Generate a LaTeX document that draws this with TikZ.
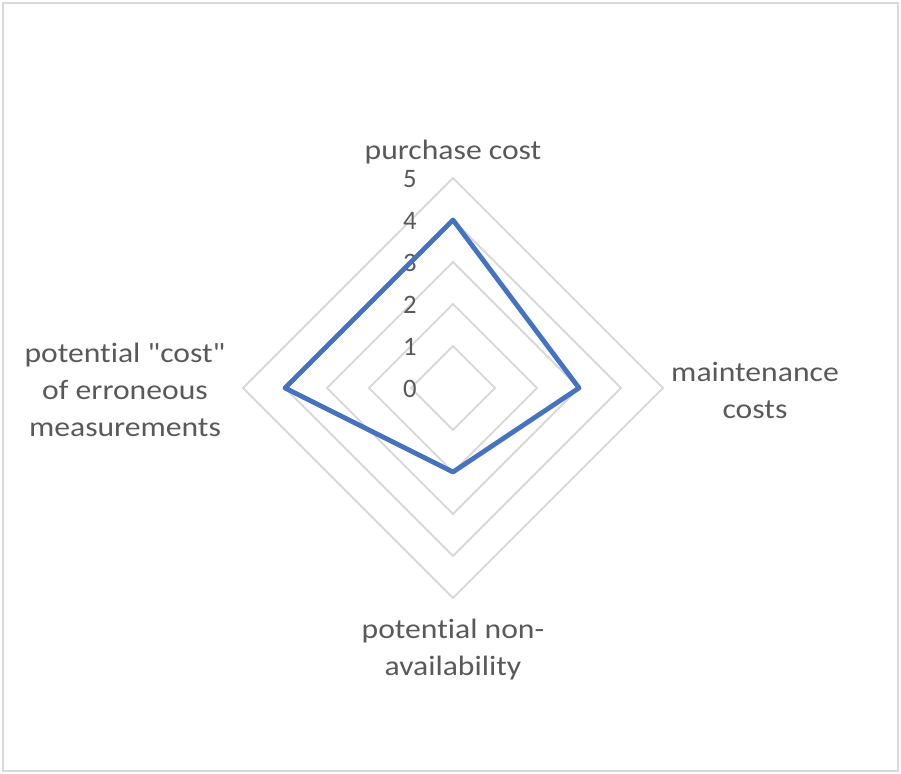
\documentclass[tikz,border=0pt]{standalone}
\usepackage{fontspec}
\setmainfont{Carlito}[Ligatures={TeXOff,CommonOff}]
\newfontfamily\widefont{Carlito}[Ligatures={TeXOff,CommonOff},FakeStretch=1.13]
\usepackage{xcolor}
\definecolor{gridgray}{RGB}{217,217,217}
\definecolor{textgray}{RGB}{89,89,89}
\definecolor{seriesblue}{RGB}{68,114,196}

\begin{document}
\begin{tikzpicture}[x=0.75pt,y=0.75pt,
  axislabel/.style={align=center,text=textgray,font=\widefont\fontsize{21}{27.75}\selectfont,inner sep=0pt},
  ticklabel/.style={anchor=east,text=textgray,font=\fontsize{20}{24}\selectfont,inner sep=0pt}]
\useasboundingbox (-453,-386) rectangle (448,388);
% Chart frame
\draw[gridgray, line width=1.6pt] (-450,385) rectangle (445,-383);

% Draw grid rings
\foreach \r in {1,...,5}
  \draw[gridgray, line width=1.4pt] (0,42*\r) -- (42*\r,0) -- (0,-42*\r) -- (-42*\r,0) -- cycle;

% Draw tick labels
\foreach \r in {0,...,5}
  \node[ticklabel] (tick\r) at (-36,42*\r-1) {\r};

% Draw series
\draw[seriesblue, line width=3.6pt, line join=round] (0,168) -- (126,0) -- (0,-84) -- (-168,0) -- cycle;

% Axis labels
\node[axislabel] (purchase) at (0,236) {purchase cost};
\node[axislabel] (maint) at (302,-2) {maintenance\\costs};
\node[axislabel] (nonavail) at (0,-262) {potential non-\\availability};
\node[axislabel] (errcost) at (-328,-2) {potential "cost"\\of erroneous\\measurements};
\end{tikzpicture}
\end{document}
